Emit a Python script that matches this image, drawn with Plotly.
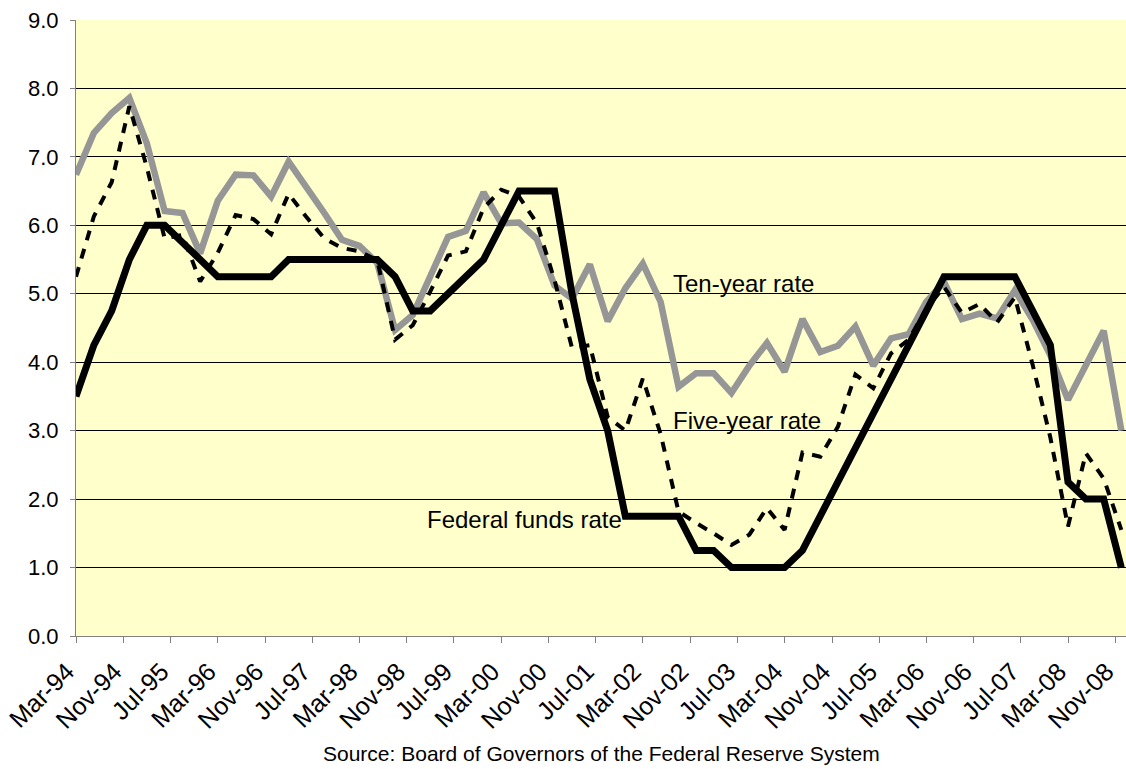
import pandas as pd
import plotly.graph_objects as go

# Quarterly observations, Mar-1994 .. Dec-2008
dates = pd.date_range("1994-03-01", periods=60, freq="3MS")

fed_funds = [3.5, 4.25, 4.75, 5.5, 6.0, 6.0, 5.75, 5.5, 5.25, 5.25,
             5.25, 5.25, 5.5, 5.5, 5.5, 5.5, 5.5, 5.5, 5.25, 4.75,
             4.75, 5.0, 5.25, 5.5, 6.0, 6.5, 6.5, 6.5, 5.0, 3.75,
             3.0, 1.75, 1.75, 1.75, 1.75, 1.25, 1.25, 1.0, 1.0, 1.0,
             1.0, 1.25, 1.75, 2.25, 2.75, 3.25, 3.75, 4.25, 4.75, 5.25,
             5.25, 5.25, 5.25, 5.25, 4.75, 4.25, 2.25, 2.0, 2.0, 1.0]

five_year = [5.25, 6.13, 6.63, 7.74, 6.85, 5.81, 5.86, 5.18, 5.60, 6.15,
             6.09, 5.87, 6.46, 6.12, 5.81, 5.67, 5.62, 5.49, 4.33, 4.54,
             5.03, 5.56, 5.62, 6.25, 6.52, 6.42, 6.03, 5.20, 4.21, 4.25,
             3.20, 3.00, 3.76, 2.95, 1.82, 1.65, 1.50, 1.33, 1.48, 1.87,
             1.55, 2.68, 2.62, 3.06, 3.82, 3.62, 4.13, 4.33, 4.78, 5.10,
             4.72, 4.85, 4.58, 4.95, 3.96, 2.90, 1.60, 2.67, 2.30, 1.55]

ten_year = [6.74, 7.35, 7.64, 7.86, 7.20, 6.21, 6.18, 5.59, 6.36, 6.74,
            6.73, 6.42, 6.93, 6.57, 6.18, 5.79, 5.70, 5.45, 4.47, 4.69,
            5.25, 5.83, 5.92, 6.48, 6.03, 6.04, 5.80, 5.12, 4.93, 5.43,
            4.60, 5.08, 5.44, 4.88, 3.64, 3.84, 3.84, 3.55, 3.95, 4.28,
            3.86, 4.63, 4.15, 4.24, 4.52, 3.95, 4.35, 4.41, 4.88, 5.17,
            4.63, 4.71, 4.64, 5.05, 4.62, 4.10, 3.45, 3.95, 4.46, 3.00]

FONT = "Liberation Sans, Arial, sans-serif"

fig = go.Figure()
fig.add_trace(go.Scatter(x=dates, y=ten_year, mode="lines", name="Ten-year rate",
                         line=dict(color="#969696", width=6.5)))
fig.add_trace(go.Scatter(x=dates, y=five_year, mode="lines", name="Five-year rate",
                         line=dict(color="#000000", width=4, dash="10px,9px")))
fig.add_trace(go.Scatter(x=dates, y=fed_funds, mode="lines", name="Federal funds rate",
                         line=dict(color="#000000", width=7)))

W, H = 1126, 769
L, R, T, B = 76, 0, 20, 133
pw, ph = W - L - R, H - T - B

def px(xp):
    return (xp - L) / pw

def py(yp):
    return (H - B - yp) / ph

fig.update_layout(
    width=W, height=H,
    margin=dict(l=L, r=R, t=T, b=B, autoexpand=False),
    paper_bgcolor="white",
    plot_bgcolor="#FFFFCC",
    showlegend=False,
    font=dict(family=FONT, size=20, color="black"),
    annotations=[
        dict(text="Ten-year rate", xref="paper", yref="paper", x=px(671), y=py(283),
             xanchor="left", yanchor="middle", showarrow=False, font=dict(size=24)),
        dict(text="Five-year rate", xref="paper", yref="paper", x=px(671), y=py(420),
             xanchor="left", yanchor="middle", showarrow=False, font=dict(size=24)),
        dict(text="Federal funds rate", xref="paper", yref="paper", x=px(425), y=py(519),
             xanchor="left", yanchor="middle", showarrow=False, font=dict(size=24)),
        dict(text="Source: Board of Governors of the Federal Reserve System",
             xref="paper", yref="paper", x=px(601), y=py(753),
             xanchor="center", yanchor="middle", showarrow=False, font=dict(size=21)),
    ],
)

fig.update_xaxes(
    type="date",
    range=["1994-03-01", "2008-12-25"],
    tick0="1994-03-01", dtick="M8", tickformat="%b-%y",
    tickangle=-45,
    ticks="outside", ticklen=6, tickcolor="#808080",
    showline=True, linecolor="#808080", linewidth=1,
    showgrid=False, zeroline=False, automargin=False,
    ticklabeloverflow="allow", ticklabelstandoff=4, ticklabelshift=-9,
    tickfont=dict(size=25),
)
fig.update_yaxes(
    range=[0, 9], dtick=1, tick0=0, tickformat=".1f",
    ticks="outside", ticklen=5, tickcolor="#808080",
    showline=True, linecolor="#808080", linewidth=1,
    showgrid=True, gridcolor="#000000", gridwidth=1,
    zeroline=False, automargin=False, ticklabelstandoff=7,
    tickfont=dict(size=22),
)

fig.write_html("out.html",
               config={"displayModeBar": False},
               post_script="document.body.style.margin='0';document.body.style.overflow='hidden';")
